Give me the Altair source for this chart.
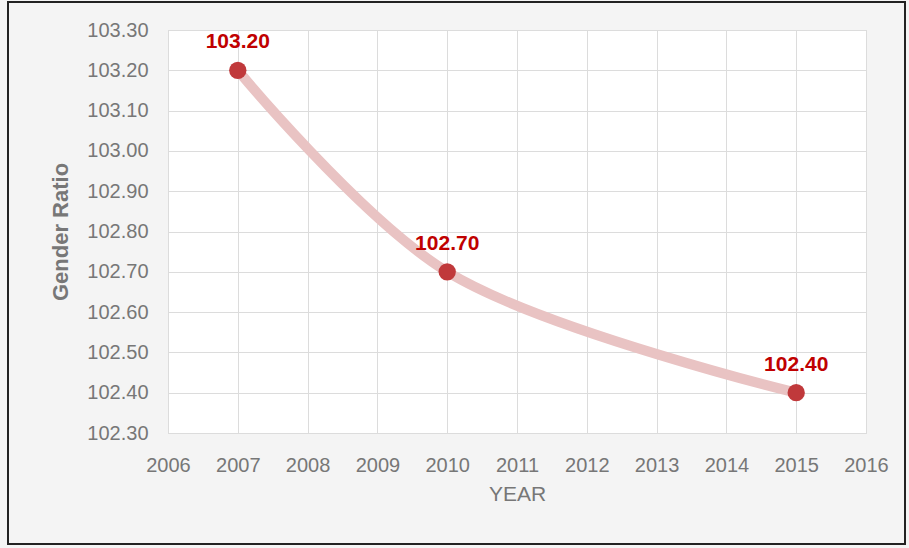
import altair as alt
import pandas as pd

years = [2007, 2010, 2015]
ratios = [103.20, 102.70, 102.40]
labels = ["103.20", "102.70", "102.40"]
x_ticks = list(range(2006, 2017))
y_ticks = [102.30, 102.40, 102.50, 102.60, 102.70, 102.80, 102.90, 103.00, 103.10, 103.20, 103.30]

df = pd.DataFrame({"year": years, "ratio": ratios, "label": labels})

FONT = "Liberation Sans, Arial, sans-serif"
GRAY = "#777777"

x = alt.X("year:Q", scale=alt.Scale(domain=[2006, 2016], nice=False, zero=False),
          axis=alt.Axis(values=x_ticks, format="d", title="YEAR", grid=True,
                        labelFont=FONT, labelFontSize=20, labelColor=GRAY, labelPadding=22,
                        labelOverlap=False, labelFlush=False,
                        titleFont=FONT, titleFontSize=21, titleColor=GRAY, titleFontWeight="normal",
                        titlePadding=8, domain=False, ticks=False, gridColor="#dcdcdc"))
y = alt.Y("ratio:Q", scale=alt.Scale(domain=[102.30, 103.30], nice=False, zero=False),
          axis=alt.Axis(values=y_ticks, format=".2f", title="Gender Ratio", grid=True,
                        labelFont=FONT, labelFontSize=20, labelColor=GRAY, labelPadding=20,
                        labelOverlap=False, labelFlush=False,
                        titleFont=FONT, titleFontSize=22, titleColor=GRAY, titleFontWeight="bold",
                        titlePadding=14, domain=False, ticks=False, gridColor="#dcdcdc"))

base = alt.Chart(df)

line = base.mark_line(color="#e9c3c3", strokeWidth=10, interpolate="catmull-rom",
                      strokeCap="round").encode(x=x, y=y)
pts = base.mark_circle(color="#c0393b", size=300, opacity=1).encode(x=x, y=y)
txt = base.mark_text(color="#c00000", font=FONT, fontSize=21, fontWeight="bold",
                     dy=-28).encode(x=x, y=y, text="label:N")

frame = alt.Chart(df).mark_rect(fill=None, stroke="#222222", strokeWidth=2).encode(
    x=alt.value(-160), x2=alt.value(737), y=alt.value(-28), y2=alt.value(514))

chart = alt.layer(frame, line, pts, txt).properties(
    width=698, height=403,
    padding={"left": 168, "top": 30, "right": 43, "bottom": 115},
    autosize=alt.AutoSizeParams(type="none"),
    background="#f4f4f4",
).configure_view(fill="white", stroke="#d0d0d0", strokeWidth=1)

chart.save("out.html", embed_options={"renderer": "svg", "actions": False})
